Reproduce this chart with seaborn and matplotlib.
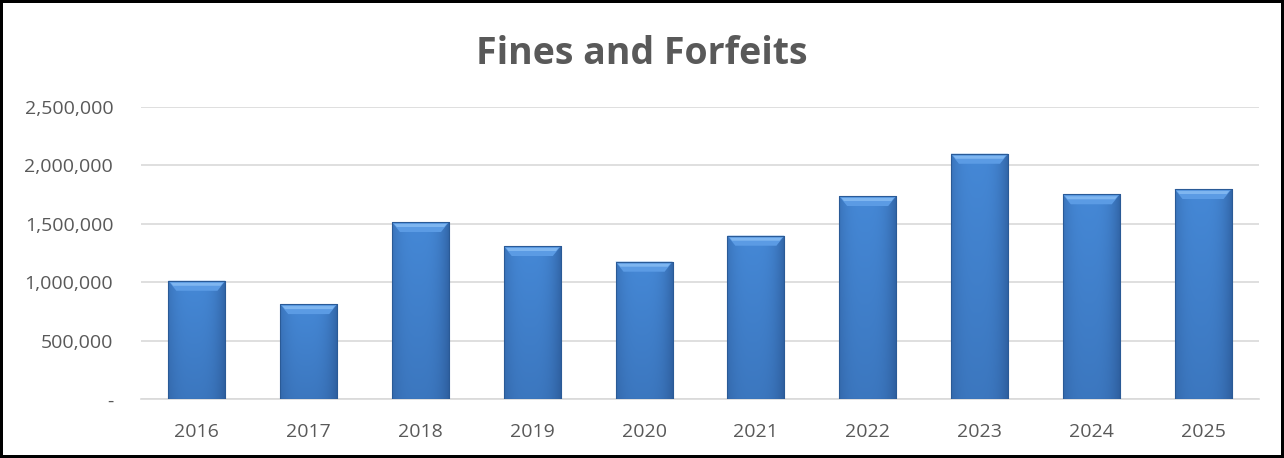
import numpy as np
import pandas as pd
import matplotlib
matplotlib.use("Agg")
import matplotlib.pyplot as plt
import seaborn as sns
from matplotlib.patches import Polygon
from matplotlib.ticker import FuncFormatter

years = ["2016", "2017", "2018", "2019", "2020", "2021", "2022", "2023", "2024", "2025"]
values = [1013000, 814000, 1515000, 1310000, 1176000, 1398000, 1737000, 2098000, 1752000, 1797000]
y_ticks = [0, 500000, 1000000, 1500000, 2000000, 2500000]
title = "Fines and Forfeits"

df = pd.DataFrame({"year": years, "value": values})

sns.set_theme(style="white")
plt.rcParams["font.family"] = ["Open Sans", "DejaVu Sans"]

fig = plt.figure(figsize=(12.84, 4.58), dpi=100)
ax = fig.add_axes([0.1098, 0.128, 0.8707, 0.639])

sns.barplot(data=df, x="year", y="value", color="#3d7cc9", width=0.51,
            saturation=1, ax=ax, zorder=3)

ax.set_ylim(0, 2500000)
ax.set_xlim(-0.5, len(years) - 0.5)
ax.set_yticks(y_ticks)
ax.yaxis.set_major_formatter(FuncFormatter(lambda v, p: "-" if v == 0 else f"{int(v):,}"))
ax.grid(axis="y", color="#d9d9d9", linewidth=1.2, zorder=0)
ax.set_axisbelow(True)
for s in ["top", "right", "left"]:
    ax.spines[s].set_visible(False)
ax.spines["bottom"].set_color("#d9d9d9")
ax.spines["bottom"].set_linewidth(1.2)
ax.tick_params(axis="both", length=0, colors="#595959", labelsize=14)
ax.tick_params(axis="y", pad=20)
ax.tick_params(axis="x", pad=17)
ax.set_xlabel("")
ax.set_ylabel("")

# Gradient shading + top bevel clipped to each bar
hx = np.linspace(0, 1, 64)
horiz = 1 - 0.6 * (np.abs(hx - 0.45) / 0.55) ** 3
vy = np.linspace(0, 1, 64)[:, None]
light = np.array([0x45, 0x88, 0xd6]) / 255.0
dark = np.array([0x24, 0x4c, 0x85]) / 255.0
ppx_y = 2500000 / (0.639 * 458)
for patch in list(ax.patches):
    x0, y0 = patch.get_x(), patch.get_y()
    w, h = patch.get_width(), patch.get_height()
    shade = horiz[None, :] * (1 - 0.28 * (1 - vy))
    img = dark[None, None, :] + (light - dark)[None, None, :] * shade[:, :, None]
    im = ax.imshow(img, extent=[x0, x0 + w, y0, y0 + h], origin="lower",
                   aspect="auto", zorder=4, interpolation="bilinear")
    im.set_clip_path(patch)
    bev_h = 10 * ppx_y
    inset = w * 0.14
    top = y0 + h
    bev = Polygon([[x0, top], [x0 + w, top], [x0 + w - inset, top - bev_h], [x0 + inset, top - bev_h]],
                  closed=True, facecolor="#5b9be4", edgecolor="none", zorder=5)
    ax.add_patch(bev)
    ax.add_patch(Polygon([[x0 + inset * 0.3, top - 2 * ppx_y], [x0 + w - inset * 0.3, top - 2 * ppx_y],
                          [x0 + w - inset * 0.6, top - 5 * ppx_y], [x0 + inset * 0.6, top - 5 * ppx_y]],
                         closed=True, facecolor="#7fb6f0", edgecolor="none", zorder=6))
    patch.set_edgecolor("#2a5a96")
    patch.set_linewidth(0.8)
    patch.set_zorder(7)
    patch.set_facecolor("none")
ax.set_xlim(-0.5, len(years) - 0.5)
ax.set_ylim(0, 2500000)

fig.text(0.5, 0.882, title, ha="center", va="center", fontsize=27,
         fontweight="bold", color="#595959")

fig.patch.set_edgecolor("black")
fig.patch.set_linewidth(3)
fig.savefig("out.png", dpi=100, edgecolor=fig.get_edgecolor())
